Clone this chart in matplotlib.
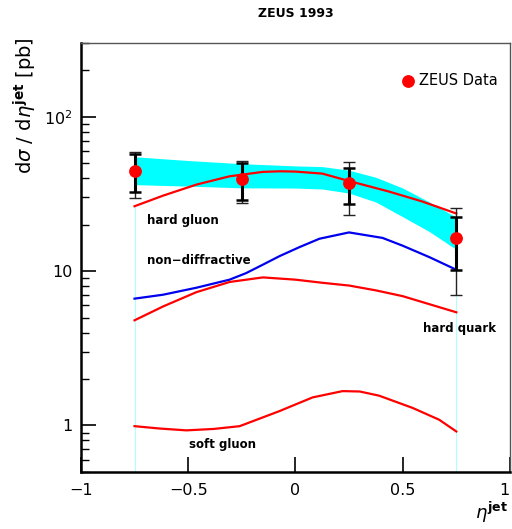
import matplotlib
matplotlib.use('Agg')
import matplotlib.pyplot as plt
import numpy as np

# ZEUS 1993 jet cross section vs eta, data and model curves
eta_pts = [-0.75, -0.25, 0.25, 0.75]
xsec = [44.8, 39.6, 37.3, 16.5]
stat_hi = [57.2, 50.4, 46.5, 22.5]
stat_lo = [32.3, 28.8, 27.2, 10.2]
tot_hi = [59.0, 51.5, 50.9, 25.8]
tot_lo = [29.7, 27.6, 23.0, 7.05]

band_x = [-0.75, -0.5, -0.25, 0.0, 0.125, 0.25, 0.375, 0.5, 0.625, 0.75]
band_hi = [55.0, 52.0, 49.6, 48.0, 47.5, 45.0, 40.5, 34.5, 28.0, 22.3]
band_lo = [36.3, 35.5, 34.6, 34.5, 34.0, 32.0, 28.0, 22.5, 18.0, 13.8]

gluon_x = [-0.75, -0.617, -0.462, -0.307, -0.152, -0.07, 0.0, 0.125, 0.25, 0.434, 0.589, 0.75]
hard_gluon = [26.3, 30.8, 36.3, 41.1, 43.9, 44.3, 44.1, 42.8, 38.3, 32.8, 28.3, 23.6]

nd_x = [-0.75, -0.617, -0.462, -0.307, -0.23, -0.152, -0.074, 0.019, 0.112, 0.25, 0.406, 0.5, 0.625, 0.75]
non_diff = [6.63, 7.03, 7.8, 8.8, 9.7, 11.0, 12.5, 14.3, 16.2, 17.8, 16.4, 14.6, 12.3, 10.2]

quark_x = [-0.75, -0.617, -0.462, -0.307, -0.152, 0.0, 0.125, 0.25, 0.375, 0.5, 0.625, 0.75]
hard_quark = [4.8, 5.9, 7.3, 8.5, 9.1, 8.8, 8.4, 8.06, 7.5, 6.88, 6.1, 5.41]

soft_x = [-0.75, -0.63, -0.508, -0.38, -0.26, -0.074, 0.08, 0.22, 0.3, 0.39, 0.546, 0.67, 0.75]
soft_gluon = [0.99, 0.955, 0.93, 0.95, 0.99, 1.24, 1.52, 1.67, 1.66, 1.56, 1.30, 1.09, 0.915]

fig = plt.figure(figsize=(5.12, 5.29), dpi=100)
ax = fig.add_axes([0.158, 0.1078, 0.838, 0.8109])
ax.set_yscale('log')
ax.set_xlim(-1, 1)
ax.set_ylim(0.5, 300)

ax.fill_between(band_x, band_lo, band_hi, color='#00ffff', lw=0, zorder=1)

# thin edges of the model histogram
ax.vlines([-0.75], 0.5, hard_gluon[0], color='#b0ffff', lw=0.8, zorder=1)
ax.vlines([0.75], 0.5, tot_lo[-1], color='#b0ffff', lw=0.8, zorder=1)

for cx, cy, col in [(gluon_x, hard_gluon, 'red'), (nd_x, non_diff, '#0000ee'),
                    (quark_x, hard_quark, 'red'), (soft_x, soft_gluon, 'red')]:
    ax.plot(cx, cy, color=col, lw=1.6, solid_joinstyle='round', zorder=3)

# total errors (thin) then statistical (thick)
y = np.array(xsec)
ax.errorbar(eta_pts, y, yerr=[y - np.array(tot_lo), np.array(tot_hi) - y],
            fmt='none', ecolor='#222222', elinewidth=1.0, capsize=4.5, capthick=1.0, zorder=4)
ax.errorbar(eta_pts, y, yerr=[y - np.array(stat_lo), np.array(stat_hi) - y],
            fmt='none', ecolor='black', elinewidth=2.2, capsize=4.0, capthick=1.8, zorder=5)
ax.plot(eta_pts, xsec, 'o', color='red', ms=8.2, zorder=6)

# legend
ax.plot([0.527], [171], 'o', color='red', ms=8.2, zorder=6, clip_on=False)
ax.text(0.575, 171, 'ZEUS Data', fontsize=10.5, va='center', ha='left')

ax.text(-0.69, 21.2, 'hard gluon', fontsize=8.5, fontweight='bold', va='center')
ax.text(-0.69, 11.7, 'non\u2212diffractive', fontsize=8.5, fontweight='bold', va='center')
ax.text(0.595, 4.25, 'hard quark', fontsize=8.5, fontweight='bold', va='center')
ax.text(-0.495, 0.75, 'soft gluon', fontsize=8.5, fontweight='bold', va='center')

fig.text(0.578, 0.975, 'ZEUS 1993', fontsize=9, fontweight='bold', ha='center', va='center')

ax.set_xticks([-1, -0.5, 0, 0.5, 1])
ax.set_xticklabels(['\u22121', '\u22120.5', '0', '0.5', '1'])
ax.get_xticklabels()[-1].set_ha('right')
ax.set_yticks([1, 10, 100])
ax.set_yticklabels(['1', '10', '10$^2$'])
ax.tick_params(axis='both', which='major', direction='in', length=11, width=1.2, labelsize=11.5, pad=8)
ax.tick_params(axis='y', which='minor', direction='in', length=6, width=1.0)
ax.tick_params(axis='x', which='minor', bottom=False)
ax.tick_params(axis='y', which='major', pad=6)

for s in ['left', 'bottom']:
    ax.spines[s].set_linewidth(1.8)
    ax.spines[s].set_color('black')
for s in ['top', 'right']:
    ax.spines[s].set_linewidth(1.0)
    ax.spines[s].set_color('#555555')

fig.text(0.05, 0.80, r'd$\sigma$ / d$\eta^{\mathbf{jet}}$ [pb]', fontsize=14, rotation=90,
         ha='center', va='center')
fig.text(0.96, 0.032, r'$\eta^{\mathbf{jet}}$', fontsize=13, ha='center', va='center')

fig.savefig('out.png', dpi=100)
